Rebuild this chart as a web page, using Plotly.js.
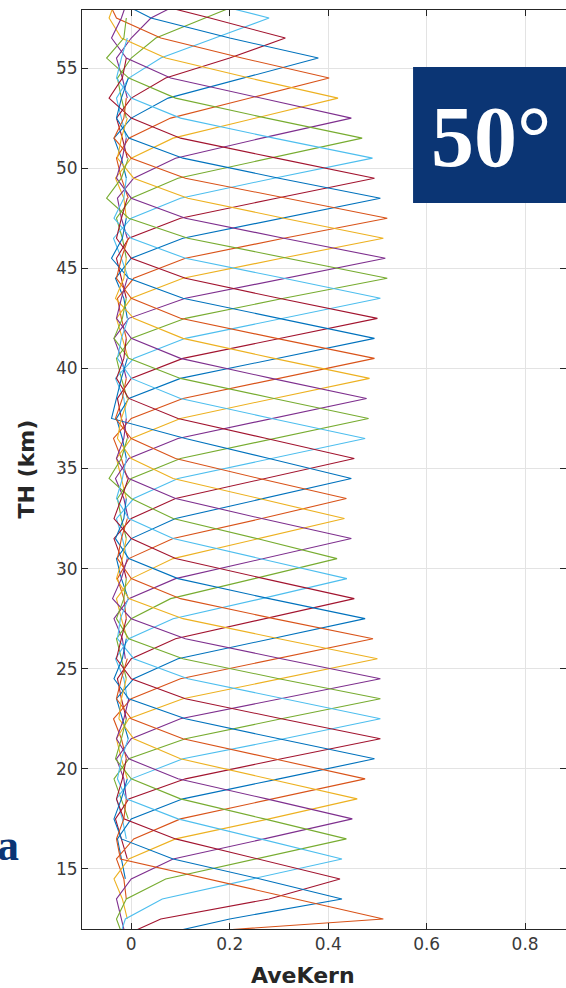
<!DOCTYPE html>
<html>
<head>
<meta charset="utf-8">
<script src="https://cdn.plot.ly/plotly-3.0.1.min.js"></script>
<style>html,body{margin:0;padding:0;background:#fff;}#chart{width:566px;height:988px;}</style>
</head>
<body>
<div id="chart"></div>
<script>
// Peak altitudes (km) of each averaging kernel
const peakLevels = [12.5,13.5,14.5,15.5,16.5,17.5,18.5,19.5,20.5,21.5,22.5,23.5,24.5,25.5,26.5,27.5,28.5,29.5,30.5,31.5,32.5,33.5,34.5,35.5,36.5,37.5,38.5,39.5,40.5,41.5,42.5,43.5,44.5,45.5,46.5,47.5,48.5,49.5,50.5,51.5,52.5,53.5,54.5,55.5,56.5,57.5,58.5,59.5];
// Altitude offsets (km) from the peak, for the kernel values below
const offsetsKm = [-6,-5,-4,-3,-2,-1,0,1,2,3,4,5,6];
// Kernel values at peak level + offset
const k12 = [-0.010,-0.020,-0.030,-0.020,-0.050,-0.070,0.512,0.334,0.156,-0.022,-0.030,-0.015,-0.010];
const k13 = [-0.010,-0.010,-0.020,-0.030,0.020,0.200,0.428,0.262,0.085,-0.020,-0.035,-0.020,-0.008];
const k14 = [-0.005,-0.010,-0.020,-0.030,0.060,0.280,0.424,0.255,0.090,-0.015,-0.030,-0.018,-0.010];
const k15 = [-0.008,-0.012,-0.025,-0.012,0.063,0.245,0.428,0.262,0.095,-0.010,-0.028,-0.020,-0.006];
const k16 = [-0.006,-0.015,-0.030,-0.010,0.070,0.255,0.437,0.270,0.100,0.000,-0.032,-0.020,-0.010];
const k17 = [-0.010,-0.020,-0.030,0.000,0.085,0.270,0.449,0.275,0.095,-0.005,-0.030,-0.015,-0.005];
const k18 = [-0.008,-0.018,-0.035,-0.005,0.090,0.280,0.459,0.280,0.100,0.005,-0.025,-0.020,-0.010];
const k19 = [-0.010,-0.015,-0.030,0.005,0.100,0.290,0.475,0.290,0.105,0.000,-0.030,-0.020,-0.008];
const k20 = [-0.012,-0.020,-0.028,0.000,0.105,0.300,0.494,0.300,0.110,-0.005,-0.035,-0.018,-0.010];
const k21 = [-0.008,-0.020,-0.032,-0.005,0.110,0.305,0.506,0.305,0.110,0.000,-0.030,-0.020,-0.010];
const k22 = [-0.010,-0.018,-0.030,0.000,0.105,0.310,0.506,0.310,0.115,0.005,-0.028,-0.022,-0.006];
const k23 = [-0.006,-0.020,-0.035,-0.005,0.110,0.305,0.506,0.300,0.105,-0.005,-0.030,-0.015,-0.010];
const k24 = [-0.010,-0.015,-0.030,0.000,0.100,0.300,0.506,0.305,0.110,0.000,-0.038,-0.020,-0.008];
const k25 = [-0.008,-0.020,-0.030,-0.005,0.105,0.300,0.500,0.300,0.105,-0.005,-0.030,-0.018,-0.010];
const k26 = [-0.010,-0.020,-0.036,0.000,0.100,0.295,0.491,0.290,0.100,0.000,-0.028,-0.020,-0.008];
const k27 = [-0.006,-0.018,-0.030,0.005,0.095,0.285,0.475,0.280,0.095,-0.005,-0.032,-0.015,-0.010];
const k28 = [-0.010,-0.020,-0.028,0.000,0.090,0.270,0.453,0.270,0.090,0.000,-0.035,-0.020,-0.006];
const k29 = [-0.008,-0.015,-0.032,-0.005,0.085,0.265,0.438,0.260,0.085,-0.005,-0.030,-0.018,-0.010];
const k30 = [-0.010,-0.020,-0.030,0.000,0.080,0.250,0.418,0.255,0.085,0.000,-0.045,-0.020,-0.008];
const k31 = [-0.012,-0.018,-0.035,-0.005,0.090,0.270,0.447,0.265,0.090,-0.005,-0.030,-0.015,-0.010];
const k32 = [-0.008,-0.020,-0.030,0.000,0.085,0.260,0.433,0.260,0.085,0.000,-0.028,-0.020,-0.006];
const k33 = [-0.010,-0.015,-0.028,-0.005,0.085,0.265,0.437,0.260,0.090,0.000,-0.032,-0.018,-0.010];
const k34 = [-0.006,-0.020,-0.030,0.000,0.090,0.270,0.447,0.280,0.110,-0.040,-0.030,-0.020,-0.008];
const k35 = [-0.010,-0.020,-0.035,0.000,0.090,0.275,0.453,0.275,0.095,-0.005,-0.030,-0.015,-0.010];
const k36 = [-0.008,-0.018,-0.030,0.005,0.095,0.285,0.475,0.285,0.100,0.000,-0.028,-0.020,-0.006];
const k37 = [-0.010,-0.020,-0.028,0.000,0.100,0.290,0.482,0.290,0.100,-0.005,-0.035,-0.018,-0.010];
const k38 = [-0.006,-0.015,-0.032,-0.005,0.095,0.290,0.478,0.285,0.100,0.000,-0.030,-0.020,-0.008];
const k39 = [-0.010,-0.020,-0.030,0.000,0.100,0.290,0.484,0.290,0.105,0.005,-0.032,-0.015,-0.010];
const k40 = [-0.008,-0.020,-0.036,0.000,0.105,0.300,0.494,0.295,0.100,0.000,-0.030,-0.020,-0.006];
const k41 = [-0.010,-0.018,-0.030,-0.005,0.100,0.295,0.494,0.300,0.105,-0.005,-0.040,-0.018,-0.010];
const k42 = [-0.006,-0.020,-0.028,0.000,0.105,0.300,0.500,0.300,0.110,0.000,-0.030,-0.020,-0.008];
const k43 = [-0.010,-0.015,-0.032,0.005,0.110,0.305,0.506,0.310,0.110,0.000,-0.035,-0.015,-0.010];
const k44 = [-0.008,-0.020,-0.030,0.000,0.110,0.310,0.520,0.315,0.115,-0.005,-0.050,-0.020,-0.006];
const k45 = [-0.010,-0.020,-0.035,-0.005,0.110,0.310,0.516,0.310,0.110,0.000,-0.030,-0.018,-0.010];
const k46 = [-0.006,-0.018,-0.030,0.000,0.105,0.305,0.512,0.310,0.115,0.005,-0.028,-0.020,-0.008];
const k47 = [-0.010,-0.020,-0.028,0.005,0.110,0.310,0.520,0.315,0.110,0.000,-0.035,-0.015,-0.010];
const k48 = [-0.008,-0.015,-0.032,0.000,0.105,0.305,0.506,0.300,0.105,-0.005,-0.030,-0.020,-0.006];
const k49 = [-0.010,-0.020,-0.030,-0.005,0.100,0.295,0.494,0.295,0.100,0.000,-0.045,-0.018,-0.010];
const k50 = [-0.006,-0.020,-0.036,0.000,0.100,0.290,0.490,0.290,0.100,0.000,-0.030,-0.020,-0.008];
const k51 = [-0.010,-0.018,-0.030,0.000,0.095,0.280,0.469,0.275,0.090,-0.005,-0.050,-0.015,-0.010];
const k52 = [-0.008,-0.020,-0.028,0.005,0.090,0.265,0.447,0.260,0.080,-0.010,-0.040,-0.020,-0.006];
const k53 = [-0.010,-0.015,-0.032,0.000,0.085,0.250,0.420,0.240,0.070,-0.020,-0.045,-0.030,-0.010];
const k54 = [-0.006,-0.020,-0.030,-0.005,0.080,0.240,0.402,0.225,0.060,-0.030,-0.050,-0.030,-0.010];
const k55 = [-0.010,-0.020,-0.035,0.000,0.075,0.225,0.380,0.200,0.040,-0.040,-0.060,-0.030,-0.010];
const k56 = [-0.008,-0.018,-0.030,0.000,0.070,0.200,0.313,0.160,0.000,-0.060,-0.040,-0.020,-0.010];
const k57 = [-0.010,-0.020,-0.030,-0.005,0.060,0.170,0.280,0.120,-0.030,-0.050,-0.030,-0.020,-0.010];
const k58 = [-0.010,-0.020,-0.028,0.000,0.050,0.150,0.250,0.100,-0.020,-0.040,-0.020,-0.010,-0.005];
const k59 = [-0.008,-0.018,-0.030,0.000,0.040,0.120,0.200,0.080,-0.020,-0.030,-0.020,-0.010,-0.005];
const kernelRows = [k12,k13,k14,k15,k16,k17,k18,k19,k20,k21,k22,k23,k24,k25,k26,k27,k28,k29,k30,k31,k32,k33,k34,k35,k36,k37,k38,k39,k40,k41,k42,k43,k44,k45,k46,k47,k48,k49,k50,k51,k52,k53,k54,k55,k56,k57,k58,k59];
const xTickVals = [0,0.2,0.4,0.6,0.8];
const xTickText = ['0','0.2','0.4','0.6','0.8'];
const yTickVals = [15,20,25,30,35,40,45,50,55];
const yTickText = ['15','20','25','30','35','40','45','50','55'];

const matlabColors = ['#0072BD','#D95319','#EDB120','#7E2F8E','#77AC30','#4DBEEE','#A2142F'];
const navy = '#0b3574';

const traces = [];
// plotted from the highest kernel downward, as in the original
for (let i = peakLevels.length - 1; i >= 0; i--) {
  const h = peakLevels[i];
  const ci = Math.round(62.5 - h) % 7;
  traces.push({
    type: 'scatter', mode: 'lines',
    x: kernelRows[i],
    y: offsetsKm.map(o => h + o),
    line: {color: matlabColors[ci], width: 1.1},
    hoverinfo: 'skip', showlegend: false
  });
}

const axisCommon = {
  showline: true, linecolor: '#262626', linewidth: 1,
  mirror: 'ticks', ticks: 'inside', ticklen: 6, tickcolor: '#262626',
  showgrid: true, gridcolor: '#e3e3e3', gridwidth: 1,
  zeroline: false,
  tickfont: {family: 'DejaVu Sans', size: 17, color: '#3a3a3a'}
};

const layout = {
  width: 566, height: 988,
  margin: {l: 82, r: 0, t: 10, b: 59},
  paper_bgcolor: '#ffffff', plot_bgcolor: '#ffffff',
  showlegend: false,
  xaxis: Object.assign({}, axisCommon, {
    range: [-0.1, 0.883], tickvals: xTickVals, ticktext: xTickText
  }),
  yaxis: Object.assign({}, axisCommon, {
    range: [12, 57.9], tickvals: yTickVals, ticktext: yTickText
  }),
  shapes: [{
    type: 'rect', xref: 'paper', yref: 'paper',
    x0: 0.684, x1: 1.0, y0: 0.790, y1: 0.938,
    fillcolor: navy, line: {width: 0}, layer: 'above'
  }],
  annotations: [
    {text: 'AveKern', xref: 'paper', yref: 'paper', x: 0.4566, y: -0.0505,
     xanchor: 'center', yanchor: 'middle', showarrow: false,
     font: {family: 'DejaVu Sans', size: 22, color: '#262626', weight: 'bold'}},
    {text: 'TH (km)', xref: 'paper', yref: 'paper', x: -0.1157, y: 0.5,
     xanchor: 'center', yanchor: 'middle', showarrow: false, textangle: -90,
     font: {family: 'DejaVu Sans', size: 22, color: '#262626', weight: 'bold'}},
    {text: '50°', xref: 'paper', yref: 'paper', x: 0.845, y: 0.862,
     xanchor: 'center', yanchor: 'middle', showarrow: false,
     font: {family: 'Liberation Serif', size: 86, color: '#ffffff', weight: 'bold'}},
    {text: 'a', xref: 'paper', yref: 'paper', x: -0.127, y: 0.091,
     xanchor: 'right', yanchor: 'middle', showarrow: false,
     font: {family: 'Liberation Serif', size: 44, color: navy, weight: 'bold'}}
  ]
};

Plotly.newPlot('chart', traces, layout, {staticPlot: true, displayModeBar: false});
</script>
</body>
</html>
